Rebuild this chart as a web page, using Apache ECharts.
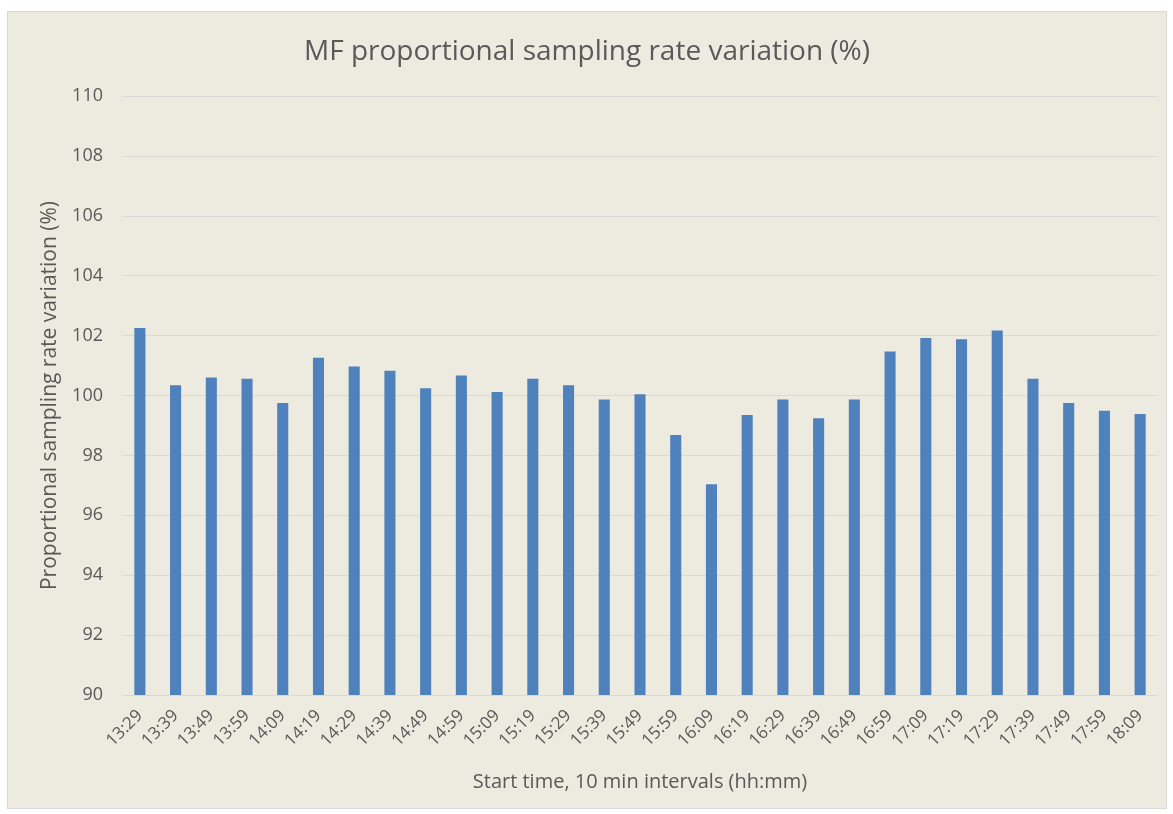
<!DOCTYPE html>
<html>
<head>
<meta charset="utf-8">
<script src="https://cdn.jsdelivr.net/npm/echarts@6/dist/echarts.min.js"></script>
<style>
html,body{margin:0;padding:0;background:#ffffff;width:1173px;height:814px;overflow:hidden;}
#frame{position:absolute;left:7px;top:11px;width:1158px;height:796px;border:1px solid #d9d9d9;background:#edebe0;}
#chart{width:1158px;height:796px;}
</style>
</head>
<body>
<div id="frame"><div id="chart"></div></div>
<script>
const categories = ["13:29","13:39","13:49","13:59","14:09","14:19","14:29","14:39","14:49","14:59",
  "15:09","15:19","15:29","15:39","15:49","15:59","16:09","16:19","16:29","16:39",
  "16:49","16:59","17:09","17:19","17:29","17:39","17:49","17:59","18:09"];
const rateVariation = [102.25,100.34,100.6,100.56,99.75,101.26,100.97,100.83,100.24,100.67,
  100.12,100.56,100.34,99.87,100.04,98.68,97.04,99.35,99.87,99.24,
  99.87,101.47,101.92,101.88,102.17,100.56,99.75,99.49,99.38];
const yTicks = {min: 90, max: 110, interval: 2};
const titleText = "MF proportional sampling rate variation (%)";
const xName = "Start time, 10 min intervals (hh:mm)";
const yName = "Proportional sampling rate variation (%)";

const chart = echarts.init(document.getElementById('chart'), null, {renderer: 'canvas'});
const font = "'Open Sans', Lato, sans-serif";
chart.setOption({
  backgroundColor: 'transparent',
  animation: false,
  title: {
    text: titleText, left: 'center', top: 21,
    textStyle: {fontFamily: font, fontSize: 28, fontWeight: 'normal', color: '#595959'}
  },
  grid: {left: 114, right: 8, top: 84, bottom: 113},
  xAxis: {
    type: 'category', data: categories,
    name: xName, nameLocation: 'middle', nameGap: 77,
    nameTextStyle: {fontFamily: font, fontSize: 20, color: '#595959'},
    axisLine: {lineStyle: {color: '#d9d9d9', width: 1}},
    axisTick: {show: false},
    axisLabel: {rotate: 45, margin: 18, fontFamily: font, fontSize: 17, color: '#595959', interval: 0}
  },
  yAxis: {
    type: 'value', min: yTicks.min, max: yTicks.max, interval: yTicks.interval,
    name: yName, nameLocation: 'middle', nameGap: 61,
    nameTextStyle: {fontFamily: font, fontSize: 21, color: '#595959'},
    axisLine: {show: false}, axisTick: {show: false},
    axisLabel: {margin: 19, fontFamily: font, fontSize: 18, color: '#595959'},
    splitLine: {lineStyle: {color: '#d9d9d9', width: 1}}
  },
  series: [{
    type: 'bar', data: rateVariation, barWidth: '31%',
    itemStyle: {color: '#4f81bd'}
  }]
});
</script>
</body>
</html>
